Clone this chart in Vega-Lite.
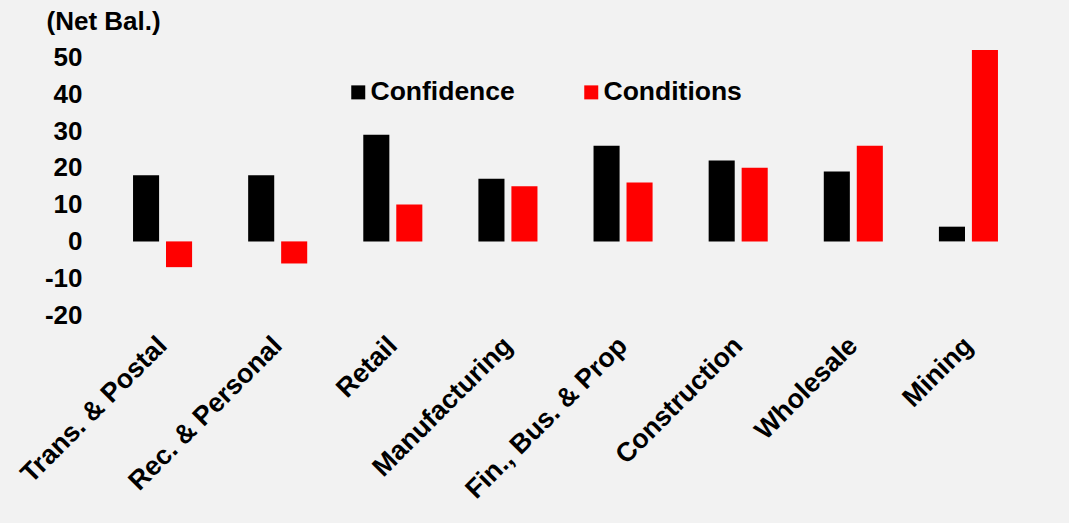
{
  "$schema": "https://vega.github.io/schema/vega-lite/v6.json",
  "autosize": {"type": "none"},
  "padding": {"left": 105, "top": 39, "right": 43, "bottom": 208},
  "width": 921,
  "height": 276,
  "background": "#f2f2f2",
  "config": {
    "view": {"stroke": null},
    "font": "Liberation Sans",
    "axis": {"grid": false, "domain": false, "ticks": false, "tickSize": 0, "labelColor": "#000000", "labelFont": "Liberation Sans", "labelFontWeight": "bold", "labelFontSize": 26}
  },
  "data": {
    "values": [
      {"sector": "Trans. & Postal", "series": "Confidence", "value": 18},
      {"sector": "Trans. & Postal", "series": "Conditions", "value": -7},
      {"sector": "Rec. & Personal", "series": "Confidence", "value": 18},
      {"sector": "Rec. & Personal", "series": "Conditions", "value": -6},
      {"sector": "Retail", "series": "Confidence", "value": 29},
      {"sector": "Retail", "series": "Conditions", "value": 10},
      {"sector": "Manufacturing", "series": "Confidence", "value": 17},
      {"sector": "Manufacturing", "series": "Conditions", "value": 15},
      {"sector": "Fin., Bus. & Prop", "series": "Confidence", "value": 26},
      {"sector": "Fin., Bus. & Prop", "series": "Conditions", "value": 16},
      {"sector": "Construction", "series": "Confidence", "value": 22},
      {"sector": "Construction", "series": "Conditions", "value": 20},
      {"sector": "Wholesale", "series": "Confidence", "value": 19},
      {"sector": "Wholesale", "series": "Conditions", "value": 26},
      {"sector": "Mining", "series": "Confidence", "value": 4},
      {"sector": "Mining", "series": "Conditions", "value": 52}
    ]
  },
  "mark": {"type": "bar"},
  "encoding": {
    "x": {
      "field": "sector",
      "type": "nominal",
      "sort": ["Trans. & Postal", "Rec. & Personal", "Retail", "Manufacturing", "Fin., Bus. & Prop", "Construction", "Wholesale", "Mining"],
      "scale": {"paddingInner": 0.487, "paddingOuter": 0.2435},
      "axis": {"title": null, "labelAngle": -45, "labelPadding": 17, "labelOffset": -9, "labelLimit": 0, "labelFontSize": 26.8}
    },
    "xOffset": {
      "field": "series",
      "type": "nominal",
      "sort": ["Confidence", "Conditions"],
      "scale": {"paddingInner": 0.21, "paddingOuter": 0}
    },
    "y": {
      "field": "value",
      "type": "quantitative",
      "scale": {"domain": [-20, 55], "nice": false, "zero": false},
      "axis": {
        "values": [-20, -10, 0, 10, 20, 30, 40, 50],
        "labelExpr": "datum.value < 0 ? '-' + abs(datum.value) : '' + datum.value",
        "labelPadding": 23,
        "title": "(Net Bal.)",
        "titleAngle": 0,
        "titleAlign": "left",
        "titleBaseline": "alphabetic",
        "titleX": -59,
        "titleY": -10,
        "titleFont": "Liberation Sans",
        "titleFontWeight": "bold",
        "titleFontSize": 26,
        "titleColor": "#000000"
      }
    },
    "color": {
      "field": "series",
      "type": "nominal",
      "scale": {"domain": ["Confidence", "Conditions"], "range": ["#000000", "#ff0000"]},
      "legend": {
        "orient": "none",
        "legendX": 240,
        "legendY": 40,
        "direction": "horizontal",
        "title": null,
        "symbolType": "square",
        "symbolSize": 196,
        "symbolStrokeWidth": 0,
        "labelFont": "Liberation Sans",
        "labelFontWeight": "bold",
        "labelFontSize": 26.5,
        "labelColor": "#000000",
        "labelOffset": -1,
        "columnPadding": 63,
        "padding": 0
      }
    }
  }
}
